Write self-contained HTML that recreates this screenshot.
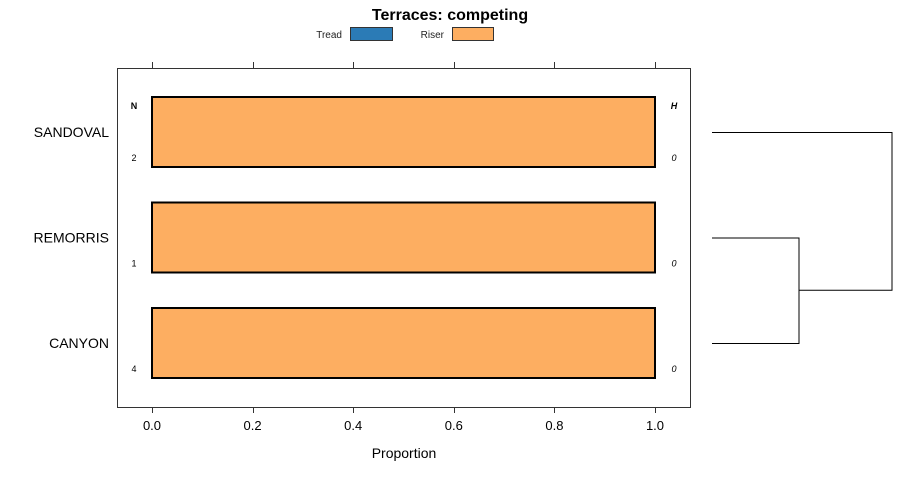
<!DOCTYPE html>
<html><head><meta charset="utf-8">
<style>
body{margin:0;background:#fff;}
svg{display:block;font-family:"Liberation Sans",Arial,sans-serif;}
</style></head>
<body>
<svg id="chart" width="900" height="480" viewBox="0 0 900 480">
  <text x="450" y="20" text-anchor="middle" font-size="16" font-weight="bold">Terraces: competing</text>
  <g>
    <text x="342" y="38" text-anchor="end" font-size="10" fill="#222">Tread</text>
    <rect x="350.5" y="27.5" width="42" height="13" fill="#2B7BB6" stroke="#333"/>
    <text x="444" y="38" text-anchor="end" font-size="10" fill="#222">Riser</text>
    <rect x="452.5" y="27.5" width="41" height="13" fill="#FDAE61" stroke="#333"/>
  </g>
  <rect x="117.5" y="68.5" width="573" height="339" fill="none" stroke="#333"/>
  <g id="marks"></g>
  <text x="404" y="458" text-anchor="middle" font-size="14">Proportion</text>
</svg>
<script>
const categories = ["SANDOVAL", "REMORRIS", "CANYON"];
const treadValues = [0, 0, 0];
const riserValues = [1, 1, 1];
const nValues = [2, 1, 4];
const hValues = [0, 0, 0];
const tickValues = [0, 0.2, 0.4, 0.6, 0.8, 1];
const tickLabels = ["0.0", "0.2", "0.4", "0.6", "0.8", "1.0"];

const NS = "http://www.w3.org/2000/svg";
const g = document.getElementById("marks");
const x = v => 152 + v * 503;
const yc = i => 132 + i * 105.5;
function mk(tag, attrs, text) {
  const e = document.createElementNS(NS, tag);
  for (const k in attrs) e.setAttribute(k, attrs[k]);
  if (text !== undefined) e.textContent = text;
  g.appendChild(e);
  return e;
}
tickValues.forEach((t, i) => {
  const px = Math.round(x(t)) + 0.5;
  let e = mk("line", {x1: px, x2: px, y1: 407, y2: 413, stroke: "#333"});
  
  
  e = mk("line", {x1: px, x2: px, y1: 62, y2: 68, stroke: "#333"});
  
  
  e = mk("text", {x: x(t), y: 430, "text-anchor": "middle", "font-size": 13}, tickLabels[i]);
  
  
});
let e = mk("text", {x: 134, y: 109, "text-anchor": "middle", "font-size": 9, "font-weight": "bold"}, "N");


e = mk("text", {x: 674, y: 109, "text-anchor": "middle", "font-size": 9, "font-weight": "bold", "font-style": "italic"}, "H");


categories.forEach((c, i) => {
  const y0 = yc(i) - 35, h = 70;
  let r = mk("rect", {x: x(0), y: y0, width: x(treadValues[i]) - x(0), height: h, fill: "#2B7BB6", stroke: "#000", "stroke-width": 2});
  
  
  r = mk("rect", {x: x(treadValues[i]), y: y0, width: x(treadValues[i] + riserValues[i]) - x(treadValues[i]), height: h, fill: "#FDAE61", stroke: "#000", "stroke-width": 2});
  
  
  let t = mk("text", {x: 109, y: yc(i) + 5, "text-anchor": "end", "font-size": 14}, c);
  
  
  t = mk("text", {x: 134, y: yc(i) + 29, "text-anchor": "middle", "font-size": 9}, nValues[i]);
  
  
  t = mk("text", {x: 674, y: yc(i) + 29, "text-anchor": "middle", "font-size": 9, "font-style": "italic"}, hValues[i]);
  
  
});
// dendrogram
const mid = (yc(1) + yc(2)) / 2;
const dpath = `M712 ${yc(0)+0.5} H892 V${mid} H799 M712 ${yc(1)+0.5} H799 V${yc(2)+0.5} H712`;
const d = mk("path", {d: dpath, fill: "none", stroke: "#000", "stroke-width": 1});


</script>
</body></html>
